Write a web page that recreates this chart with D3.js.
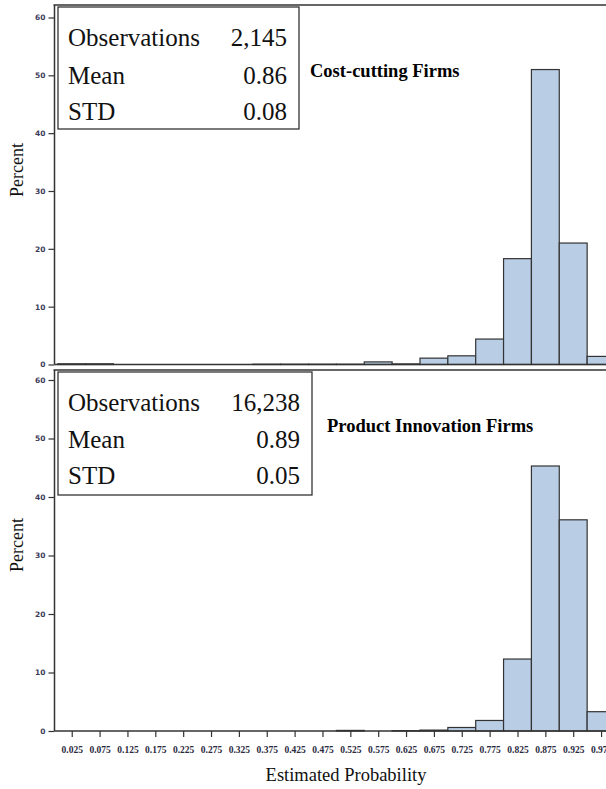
<!DOCTYPE html>
<html><head><meta charset="utf-8">
<script src="https://cdn.jsdelivr.net/npm/d3@7"></script>
<style>body{margin:0;background:#fff}svg{display:block}</style>
</head><body>
<script>
// bin midpoints (tick labels)
const binMids = ["0.025","0.075","0.125","0.175","0.225","0.275","0.325","0.375","0.425","0.475",
                 "0.525","0.575","0.625","0.675","0.725","0.775","0.825","0.875","0.925","0.975"];
// percent per bin
const costCutting = [0.12,0.12,0,0,0,0,0,0.05,0.05,0.05,0.05,0.45,0.1,1.1,1.5,4.4,18.3,51.0,21.0,1.4];
const productInnovation = [0,0,0,0,0,0,0,0,0,0,0.1,0,0.06,0.15,0.6,1.8,12.3,45.3,36.1,3.3];
const yTicks = [0,10,20,30,40,50,60];
const panels = [
  {title:"Cost-cutting Firms", data:costCutting, stats:[["Observations","2,145"],["Mean","0.86"],["STD","0.08"]]},
  {title:"Product Innovation Firms", data:productInnovation, stats:[["Observations","16,238"],["Mean","0.89"],["STD","0.05"]]}
];

const SERIF="'Liberation Serif','Times New Roman',serif";
const W=606,H=789;
const svg=d3.select("body").append("svg").attr("width",W).attr("height",H);
const x=d3.scaleLinear().domain([0,1]).range([57.8,615]);
const bw=x(0.05)-x(0);
const axisX=54.5;

const layout=[
  {frameTop:5, y0:364.5, y60:17.5, box:[58,7,299,129], rowsY:[46,84,120], numX:287, titleX:310, titleY:77, labelY:170},
  {frameTop:370, y0:731, y60:380, box:[58,372,312,495], rowsY:[411,448,484], numX:300, titleX:327, titleY:432, labelY:545}
];

panels.forEach((p,i)=>{
  const L=layout[i];
  const y=d3.scaleLinear().domain([0,60]).range([L.y0,L.y60]);
  const g=svg.append("g");
  // frame top line
  g.append("line").attr("x1",axisX-1).attr("x2",W).attr("y1",L.frameTop).attr("y2",L.frameTop)
    .attr("stroke","#333").attr("stroke-width",1.5);
  // bars
  g.selectAll("rect.bar").data(p.data.map((v,k)=>({v,m:+binMids[k]})).filter(d=>d.v>0))
    .join("rect").attr("class","bar")
    .attr("x",d=>x(d.m)-bw/2).attr("width",bw)
    .attr("y",d=>y(d.v)).attr("height",d=>y(0)-y(d.v))
    .attr("fill","#b9cde5").attr("stroke","#333").attr("stroke-width",1.2);
  // y axis
  const ya=g.append("g").attr("transform",`translate(${axisX},0)`)
    .call(d3.axisLeft(y).tickValues(yTicks).tickSize(6).tickPadding(3).tickFormat(d3.format("d")));
  ya.select(".domain").remove();
  ya.selectAll("line").attr("stroke","#333").attr("stroke-width",1.2);
  ya.selectAll("text").attr("font-family","DejaVu Sans").attr("font-weight","bold")
    .attr("font-size",7.5).attr("fill","#3c3c5a");
  g.append("line").attr("x1",axisX).attr("x2",axisX).attr("y1",L.frameTop).attr("y2",L.y0)
    .attr("stroke","#333").attr("stroke-width",1.5);
  // x baseline
  g.append("line").attr("x1",axisX).attr("x2",W).attr("y1",L.y0).attr("y2",L.y0)
    .attr("stroke","#333").attr("stroke-width",1.5);
  // stats box
  const [bx1,by1,bx2,by2]=L.box;
  g.append("rect").attr("x",bx1).attr("y",by1).attr("width",bx2-bx1).attr("height",by2-by1)
    .attr("fill","#fff").attr("stroke","#333").attr("stroke-width",1.3);
  p.stats.forEach((s,k)=>{
    g.append("text").attr("x",bx1+10).attr("y",L.rowsY[k]).text(s[0])
      .style("font-family",SERIF).attr("font-size",25).attr("fill","#111");
    g.append("text").attr("x",L.numX).attr("y",L.rowsY[k]).text(s[1]).attr("text-anchor","end")
      .style("font-family",SERIF).attr("font-size",25).attr("fill","#111");
  });
  // title
  g.append("text").attr("x",L.titleX).attr("y",L.titleY).text(p.title)
    .style("font-family",SERIF).attr("font-weight","bold").attr("font-size",18.5).attr("fill","#000");
  // y label
  g.append("text").attr("transform",`translate(23,${L.labelY}) rotate(-90)`).attr("text-anchor","middle")
    .text("Percent").style("font-family",SERIF).attr("font-size",18).attr("fill","#111");
  // x axis ticks on bottom panel
  if(i===1){
    const xa=g.append("g").attr("transform",`translate(0,${L.y0})`)
      .call(d3.axisBottom(x).tickValues(binMids.map(Number)).tickSize(6).tickPadding(9).tickFormat((d,k)=>binMids[k]));
    xa.select(".domain").remove();
    xa.selectAll("line").attr("stroke","#333").attr("stroke-width",1.2);
    xa.selectAll("text").style("font-family",SERIF).attr("font-weight","bold").attr("font-size",9.5).attr("fill","#2a2a40");
  }
});
svg.append("text").attr("x",346).attr("y",781).attr("text-anchor","middle").text("Estimated Probability")
  .style("font-family",SERIF).attr("font-size",18.5).attr("fill","#111");
</script>
</body></html>
